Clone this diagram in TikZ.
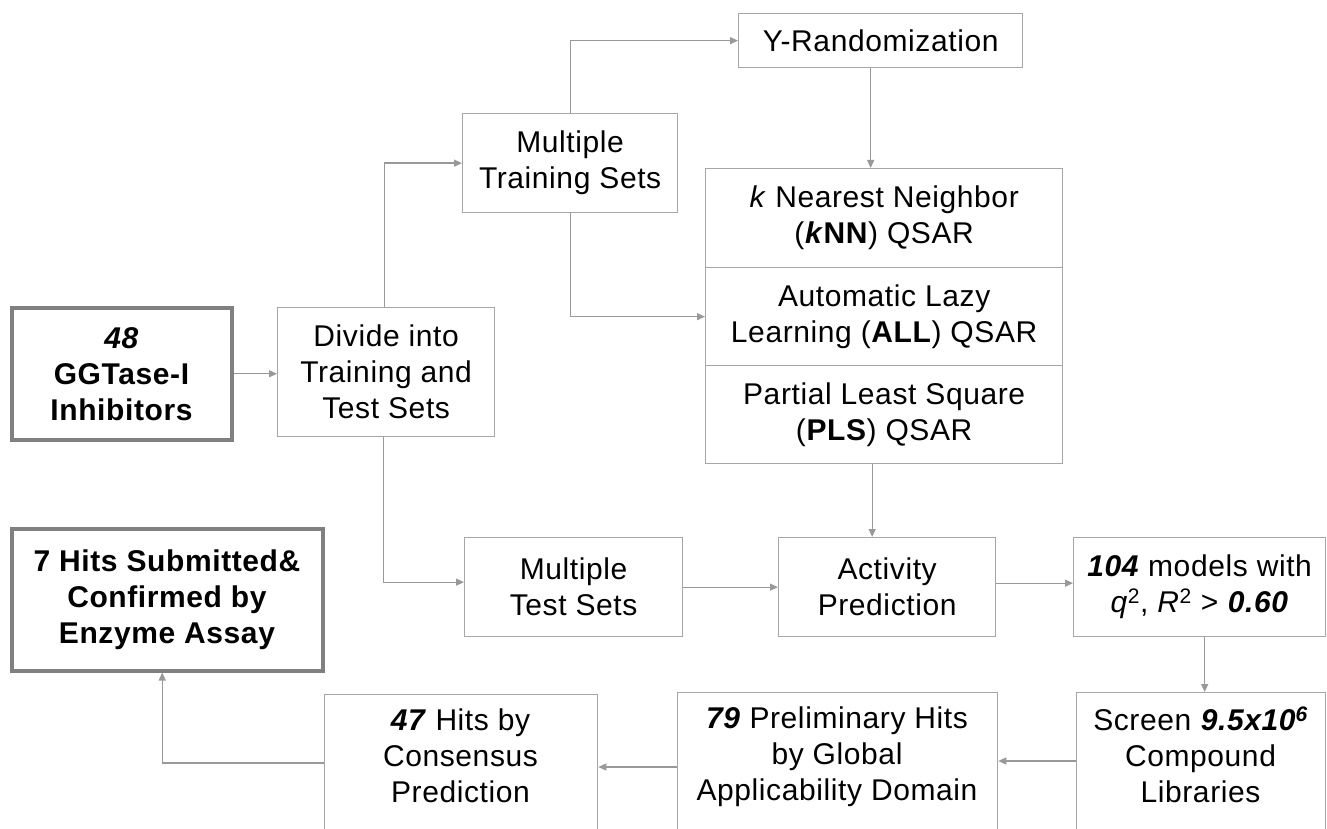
\documentclass[tikz,border=0pt]{standalone}
\usepackage{fontspec}
\setmainfont[LetterSpace=2]{Liberation Sans}
\usetikzlibrary{arrows.meta}
\definecolor{boxgray}{HTML}{A6A6A6}
\definecolor{thickgray}{HTML}{808080}
\definecolor{linegray}{HTML}{999999}
\begin{document}
\begin{tikzpicture}[x=1pt,y=-1pt,
  txt/.style={font=\fontsize{30}{36}\selectfont, align=center},
  box/.style={txt, draw=boxgray, line width=1.3pt, inner sep=0pt, anchor=north west},
  thickbox/.style={box, draw=thickgray, line width=3.5pt},
  lbl/.style={txt, inner sep=0pt, anchor=north},
  arr/.style={draw=linegray, line width=1.3pt, -{Triangle[length=8pt,width=7pt]}},
  conn/.style={draw=linegray, line width=1.3pt}
]
\useasboundingbox (0,0) rectangle (1327,829);
\clip (0,0) rectangle (1327,829);

% boxes
\node[thickbox, minimum width=220pt, minimum height=132pt] (ggt) at (10,306)
  {\textbf{\textit{48}}\\\textbf{GGTase-I}\\\textbf{Inhibitors}};
\node[box, minimum width=217pt, minimum height=129pt] (divide) at (277,307)
  {Divide into\\Training and\\Test Sets};
\node[box, minimum width=215pt, minimum height=99pt] (mtrain) at (462,113)
  {Multiple\\Training Sets};
\node[box, minimum width=284pt, minimum height=54pt] (yrand) at (738,13)
  {Y-Randomization};
\node[box, minimum width=357pt, minimum height=99pt] (knn) at (705,168)
  {\textit{k} Nearest Neighbor\\(\textbf{\textit{k}NN}) QSAR};
\node[box, minimum width=357pt, minimum height=98pt] (all) at (705,267)
  {Automatic Lazy\\Learning (\textbf{ALL}) QSAR};
\node[box, minimum width=357pt, minimum height=98pt] (pls) at (705,365)
  {Partial Least Square\\(\textbf{PLS}) QSAR};
\node[box, minimum width=218pt, minimum height=99pt] (mtest) at (464,537)
  {Multiple\\Test Sets};
\node[box, minimum width=217pt, minimum height=99pt] (activity) at (778,537)
  {Activity\\Prediction};
\node[box, minimum width=252pt, minimum height=99pt] (m104) at (1073,537)
  {\textbf{\textit{104}} models with\\\textit{q}\textsuperscript{2}, \textit{R}\textsuperscript{2} > \textbf{\textit{0.60}}};
\node[thickbox, minimum width=311pt, minimum height=142pt] (hits7) at (10,527)
  {\textbf{7 Hits Submitted\&}\\\textbf{Confirmed by}\\\textbf{Enzyme Assay}};
\node[box, minimum width=249pt, minimum height=250pt] (screen) at (1076,692) {};
\node[box, minimum width=320pt, minimum height=250pt] (prelim) at (677,692) {};
\node[box, minimum width=273pt, minimum height=250pt] (hits47) at (324,694) {};

% texts of the boxes cut by the lower edge
\node[lbl] (screent) at (1200.5,707)
  {Screen \textbf{\textit{9.5x10\textsuperscript{6}}}\\Compound\\Libraries};
\node[lbl] (prelimt) at (837,707)
  {\textbf{\textit{79}} Preliminary Hits\\by Global\\Applicability Domain};
\node[lbl] (hits47t) at (460.5,709)
  {\textbf{\textit{47}} Hits by\\Consensus\\Prediction};

% helper coordinates
\coordinate (scrout) at ([yshift=-69pt]screen.north west);
\coordinate (preout) at ([yshift=-75pt]prelim.north west);
\coordinate (h47out) at ([yshift=-69pt]hits47.north west);

% connectors
\draw[arr] (ggt.east) -- (ggt.east -| divide.west);
\draw[arr] ([xshift=-2pt]divide.north) |- (mtrain.west);
\draw[arr] (mtrain.north) |- (yrand.west);
\draw[arr] ([xshift=-10pt]yrand.south) -- ([xshift=-10pt]yrand.south |- knn.north);
\draw[arr] (mtrain.south) |- (all.west);
\draw[arr] ([xshift=-12pt]pls.south) -- ([xshift=-12pt]pls.south |- activity.north);
\draw[arr] ([xshift=-3pt]divide.south) |- ([yshift=5pt]mtest.west);
\draw[arr] (mtest.east) -- (activity.west);
\draw[arr] ([yshift=4pt]activity.east) -- ([yshift=4pt]m104.west);
\draw[arr] ([xshift=5pt]m104.south) -- ([xshift=5pt]m104.south |- screen.north);
\draw[arr] (scrout) -- (scrout -| prelim.east);
\draw[arr] (preout) -- (preout -| hits47.east);
\draw[arr] (h47out) -| ([xshift=-5pt]hits7.south);
\end{tikzpicture}
\end{document}
